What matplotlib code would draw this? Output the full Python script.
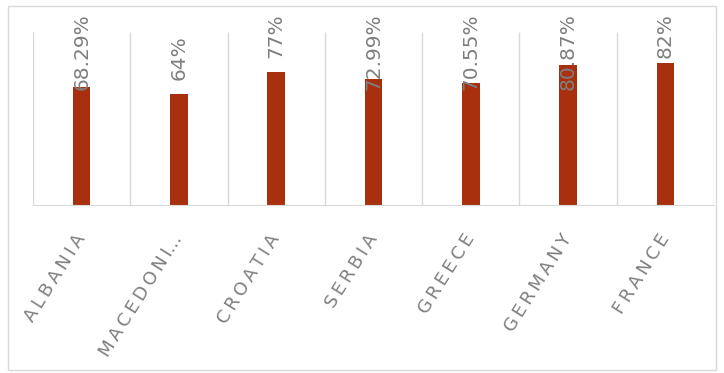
import matplotlib
matplotlib.use("Agg")
import matplotlib.pyplot as plt
from matplotlib.patches import Rectangle

countries = ["ALBANIA", "MACEDONI...", "CROATIA", "SERBIA", "GREECE", "GERMANY", "FRANCE"]
values = [68.29, 64, 77, 72.99, 70.55, 80.87, 82]
value_labels = ["68.29%", "64%", "77%", "72.99%", "70.55%", "80.87%", "82%"]

BAR_COLOR = "#A8300F"
GRID_COLOR = "#D9D9D9"
TEXT_COLOR = "#7F7F7F"


def spaced(s):
    # widen the tracking of category names with thin spaces (dots stay tight)
    out = ""
    for i, ch in enumerate(s):
        out += ch
        if i + 1 < len(s) and s[i + 1] != ".":
            out += "\u2009"
    return out


W, H, DPI = 724, 373, 100
fig = plt.figure(figsize=(W / DPI, H / DPI), dpi=DPI)
fig.patch.set_facecolor("white")

# outer chart border
fig.add_artist(Rectangle((8 / W, 3 / H), 708 / W, 364 / H, transform=fig.transFigure,
                         fill=False, edgecolor=GRID_COLOR, linewidth=1))

ax = fig.add_axes([33 / W, (H - 205) / H, (714 - 33) / W, (205 - 32) / H])
ax.set_xlim(-0.5, len(countries) - 0.5)
ax.set_ylim(0, 100)

# vertical separators between categories
for b in range(len(countries) + 1):
    ax.vlines(b - 0.5, 0, 100, color=GRID_COLOR, linewidth=1, zorder=1)

ax.bar(range(len(countries)), values, width=0.18, color=BAR_COLOR, zorder=2)

for s in ["top", "left", "right"]:
    ax.spines[s].set_visible(False)
ax.spines["bottom"].set_color(GRID_COLOR)
ax.set_yticks([])
ax.set_xticks(range(len(countries)))
ax.set_xticklabels([spaced(c) for c in countries], rotation=58, ha="right", va="center",
                   rotation_mode="anchor", color=TEXT_COLOR, fontsize=13,
                   family="DejaVu Sans")
ax.tick_params(axis="x", length=0, pad=22)

# value labels above bars, kept inside the chart's top margin
anns = []
for i, (v, t) in enumerate(zip(values, value_labels)):
    a = ax.annotate(t, xy=(i, v), xytext=(0, 14), textcoords="offset pixels",
                    rotation=90, ha="center", va="bottom", color=TEXT_COLOR,
                    fontsize=14.5, annotation_clip=False, zorder=3)
    anns.append(a)

fig.canvas.draw()
r = fig.canvas.get_renderer()
limit = H - 13
for a in anns:
    bb = a.get_window_extent(r)
    if bb.y1 > limit:
        a.xyann = (0, 14 - (bb.y1 - limit))

fig.savefig("out.png", dpi=DPI)
